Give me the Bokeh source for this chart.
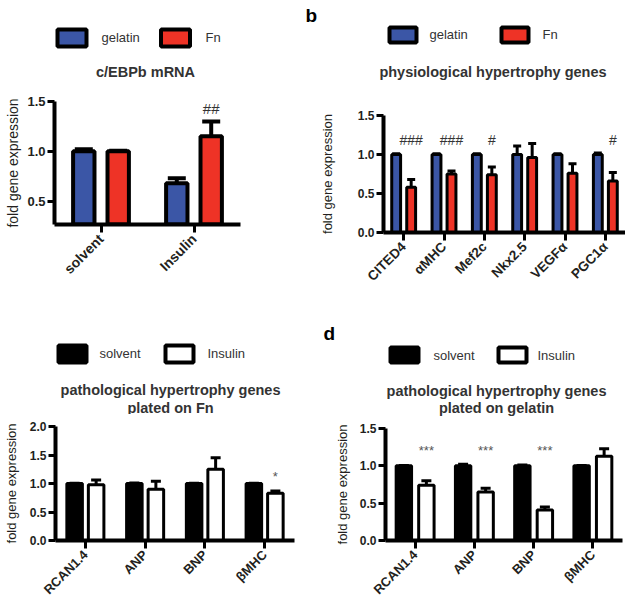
import math
from bokeh.plotting import figure
from bokeh.models import Range1d, FactorRange, FixedTicker, PrintfTickFormatter, ColumnDataSource
from bokeh.transform import dodge
from bokeh.layouts import row, column
from bokeh.embed import file_html
from bokeh.resources import INLINE
from bokeh.core.properties import value

FONT = "Liberation Sans"
BLUE = "#3B56A6"
RED = "#EE3326"
TXT = "#231F20"
TITLE_C = "#333333"

# ---------------- data ----------------
# panel a: c/EBPb mRNA
a_cats = ["solvent", "Insulin"]
a_gelatin = [1.00, 0.68]
a_gelatin_err = [0.02, 0.05]
a_fn = [1.00, 1.15]
a_fn_err = [0.005, 0.15]
a_sig = ["", "##"]

# panel b: physiological hypertrophy genes
b_cats = ["CITED4", "αMHC", "Mef2c", "Nkx2.5", "VEGFα", "PGC1α"]
b_gelatin = [1.00, 1.00, 1.00, 1.00, 1.00, 1.00]
b_gelatin_err = [0.01, 0.01, 0.01, 0.11, 0.01, 0.02]
b_fn = [0.58, 0.75, 0.74, 0.96, 0.76, 0.66]
b_fn_err = [0.10, 0.04, 0.10, 0.18, 0.12, 0.11]
b_sig = ["###", "###", "#", "", "", "#"]

# panel c: pathological hypertrophy genes plated on Fn
c_cats = ["RCAN1.4", "ANP", "BNP", "βMHC"]
c_solvent = [1.00, 1.00, 1.00, 1.00]
c_solvent_err = [0.005, 0.01, 0.005, 0.005]
c_insulin = [0.98, 0.90, 1.25, 0.83]
c_insulin_err = [0.08, 0.14, 0.20, 0.04]
c_sig = ["", "", "", "*"]

# panel d: pathological hypertrophy genes plated on gelatin
d_cats = ["RCAN1.4", "ANP", "BNP", "βMHC"]
d_solvent = [1.00, 1.00, 1.00, 1.00]
d_solvent_err = [0.005, 0.02, 0.01, 0.005]
d_insulin = [0.74, 0.65, 0.41, 1.13]
d_insulin_err = [0.06, 0.05, 0.04, 0.10]
d_sig = ["***", "***", "***", ""]


def bar_panel(cats, v1, e1, v2, e2, c1, c2, sig, sig_y, y0, y1, ticks,
              w, h, bl, br, bb, off, bw, lw, cap, tick_fs, cat_fs, lab_fs,
              lab_standoff, sig_fs, sig_color):
    src = ColumnDataSource(dict(
        cat=cats, v1=v1, v2=v2,
        hi1=[v + e for v, e in zip(v1, e1)],
        hi2=[v + e for v, e in zip(v2, e2)],
        sig=sig, sy=[sig_y] * len(cats),
    ))
    p = figure(width=w, height=h, x_range=FactorRange(factors=cats),
               y_range=Range1d(y0, y1), output_backend="svg",
               toolbar_location=None, min_border_left=bl, min_border_right=br,
               min_border_top=12, min_border_bottom=bb,
               outline_line_color=None, background_fill_color=None,
               border_fill_color=None, frame_align=False)
    p.xgrid.visible = False
    p.ygrid.visible = False
    x1 = dodge("cat", -off, range=p.x_range)
    x2 = dodge("cat", off, range=p.x_range)
    for x, top, hi, col in ((x1, "v1", "hi1", c1), (x2, "v2", "hi2", c2)):
        p.vbar(x=x, top=top, bottom=0, width=bw, source=src, fill_color=col,
               line_color="black", line_width=lw)
        p.segment(x0=x, y0=top, x1=x, y1=hi, source=src, line_color="black",
                  line_width=lw)
        p.scatter(x=x, y=hi, source=src, marker="dash", size=cap,
                  line_color="black", line_width=lw)
    p.text(x=x2, y="sy", text="sig", source=src, text_align="center",
           text_baseline="middle", text_font=value(FONT),
           text_font_size=sig_fs, text_color=sig_color)

    for ax in (p.xaxis[0], p.yaxis[0]):
        ax.axis_line_width = 4
        ax.axis_line_color = "black"
        ax.major_tick_line_width = 3
        ax.major_tick_line_color = "black"
        ax.minor_tick_line_color = None
        ax.major_tick_in = 0
        ax.major_label_text_font = FONT
        ax.major_label_text_font_style = "bold"
        ax.major_label_text_color = TXT
    p.yaxis.ticker = FixedTicker(ticks=ticks)
    p.yaxis.formatter = PrintfTickFormatter(format="%.1f")
    p.yaxis.major_tick_out = 7
    p.yaxis.major_label_standoff = 2
    p.yaxis.major_label_text_font_size = tick_fs
    p.yaxis.axis_label = "fold gene expression"
    p.yaxis.axis_label_text_font = FONT
    p.yaxis.axis_label_text_font_style = "normal"
    p.yaxis.axis_label_text_font_size = lab_fs
    p.yaxis.axis_label_text_color = TXT
    p.yaxis.axis_label_standoff = lab_standoff
    p.xaxis.major_tick_out = 8
    p.xaxis.major_label_standoff = 4
    p.xaxis.major_label_orientation = math.pi / 4
    p.xaxis.major_label_text_font_size = cat_fs
    return p


def header(w, h, boxes, labels, titles, letter=None, box_w=29, box_h=17,
           legend_fs="13px", title_fs="14.5px"):
    hp = figure(width=w, height=h, x_range=Range1d(0, w), y_range=Range1d(h, 0),
                output_backend="svg", toolbar_location=None, min_border=0,
                x_axis_type=None, y_axis_type=None, outline_line_color=None,
                background_fill_color=None, border_fill_color=None,
                frame_align=False)
    hp.grid.visible = False
    for (bx, by, fill), (lx, ly, txt) in zip(boxes, labels):
        hp.rect(x=[bx], y=[by], width=box_w, height=box_h, fill_color=fill,
                line_color="black", line_width=4)
        hp.text(x=[lx], y=[ly], text=[txt], text_align="left",
                text_baseline="middle", text_font=value(FONT),
                text_font_size=legend_fs, text_color=TITLE_C)
    for (tx, ty, txt) in titles:
        hp.text(x=[tx], y=[ty], text=[txt], text_align="center",
                text_baseline="middle", text_font=value(FONT),
                text_font_size=title_fs, text_font_style="bold",
                text_color=TITLE_C)
    if letter is not None:
        lx, ly, txt = letter
        hp.text(x=[lx], y=[ly], text=[txt], text_align="left",
                text_baseline="middle", text_font=value(FONT),
                text_font_size="19px", text_font_style="bold",
                text_color="black")
    return hp


# ---------------- panel a ----------------
ha = header(300, 89,
            boxes=[(71.5, 37.5, BLUE), (175, 37.5, RED)],
            labels=[(101, 37, "gelatin"), (205, 37, "Fn")],
            titles=[(145, 71, "c/EBPb mRNA")], box_w=29, box_h=17)
pa = bar_panel(a_cats, a_gelatin, a_gelatin_err, a_fn, a_fn_err, BLUE, RED,
               a_sig, 1.43, 0.265, 1.5, [0.5, 1.0, 1.5],
               w=300, h=211, bl=54, br=60, bb=76, off=0.185, bw=0.23, lw=4,
               cap=18, tick_fs="13px", cat_fs="14px", lab_fs="14px",
               lab_standoff=3, sig_fs="15px", sig_color="#333333")

# ---------------- panel b ----------------
hb = header(325, 103,
            boxes=[(102.5, 34.5, BLUE), (214.5, 34.5, RED)],
            labels=[(129, 34, "gelatin"), (242, 34, "Fn")],
            titles=[(192.5, 71, "physiological hypertrophy genes")],
            letter=(5, 15, "b"), box_w=27, box_h=15)
pb = bar_panel(b_cats, b_gelatin, b_gelatin_err, b_fn, b_fn_err, BLUE, RED,
               b_sig, 1.19, 0.0, 1.5, [0.0, 0.5, 1.0, 1.5],
               w=325, h=197, bl=83, br=0, bb=68, off=0.186, bw=0.22, lw=3,
               cap=8, tick_fs="12px", cat_fs="13.5px", lab_fs="13px",
               lab_standoff=20, sig_fs="14px", sig_color="#333333")

# ---------------- panel c ----------------
hc = header(300, 114,
            boxes=[(72, 53.5, "black"), (179, 53.5, "white")],
            labels=[(99, 53, "solvent"), (207, 53, "Insulin")],
            titles=[(170, 89, "pathological hypertrophy genes"),
                    (170, 107, "plated on Fn")], box_w=28, box_h=17)
pc = bar_panel(c_cats, c_solvent, c_solvent_err, c_insulin, c_insulin_err,
               "black", "white", c_sig, 1.12, 0.0, 2.0,
               [0.0, 0.5, 1.0, 1.5, 2.0],
               w=300, h=191, bl=54, br=6, bb=61, off=0.18, bw=0.26, lw=3,
               cap=10, tick_fs="12px", cat_fs="13px", lab_fs="13px",
               lab_standoff=8, sig_fs="13px", sig_color="#555555")

# ---------------- panel d ----------------
hd = header(325, 116,
            boxes=[(104, 54.5, "black"), (212, 54.5, "white")],
            labels=[(133, 55, "solvent"), (237, 55, "Insulin")],
            titles=[(196, 90, "pathological hypertrophy genes"),
                    (196, 107, "plated on gelatin")],
            letter=(23, 33, "d"), box_w=28, box_h=15)
pd_ = bar_panel(d_cats, d_solvent, d_solvent_err, d_insulin, d_insulin_err,
                "black", "white", d_sig, 1.21, 0.0, 1.5, [0.0, 0.5, 1.0, 1.5],
                w=325, h=189, bl=85, br=3, bb=59, off=0.19, bw=0.26, lw=3,
                cap=10, tick_fs="12px", cat_fs="13px", lab_fs="13px",
                lab_standoff=7, sig_fs="13px", sig_color="#555555")

layout = column(
    row(column(ha, pa), column(hb, pb)),
    row(column(hc, pc), column(hd, pd_)),
)

open("out.html", "w").write(file_html(layout, INLINE))
